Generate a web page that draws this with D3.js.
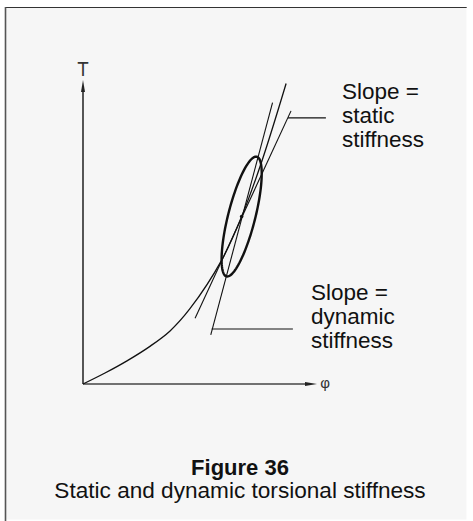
<!DOCTYPE html>
<html><head><meta charset="utf-8">
<script src="https://cdn.jsdelivr.net/npm/d3@7"></script>
<style>html,body{margin:0;padding:0;background:#fff}</style>
</head><body><svg id="c" width="473" height="521"></svg>
<script>
// ---- data (axis units: phi 0..10, T 0..13) ----
const curvePhi = [0, 0.94, 1.88, 2.86, 3.72, 4.57, 5.94, 6.78, 7.65, 8.68];
const curveT   = [0, 0.47, 0.99, 1.61, 2.27, 3.22, 5.32, 7.16, 9.55, 12.85];
const staticPhi = [4.79, 8.89];
const staticT   = [2.81, 11.68];
const dynamicPhi = [5.46, 8.10];
const dynamicT   = [2.10, 12.03];
const ellipseCenter = [6.78, 7.16];
const ellipseSemiAxes = [2.64, 0.58];
const ellipseTiltDeg = 14.2;
const staticLeaderPhi = [8.76, 10.38];
const staticLeaderT = 11.38;
const dynamicLeaderPhi = [5.50, 8.97];
const dynamicLeaderT = 2.35;
const staticLabel = ["Slope =", "static", "stiffness"];
const dynamicLabel = ["Slope =", "dynamic", "stiffness"];
const axisLabels = ["T", "φ"];
const titleText = "Figure 36";
const subtitleText = "Static and dynamic torsional stiffness";

const svg = d3.select("#c");
const W = 473, H = 521;
const x = d3.scaleLinear().domain([0, 10]).range([83, 317]);
const y = d3.scaleLinear().domain([0, 13]).range([384, 80]);
const font = "'Liberation Sans', Arial, Helvetica, sans-serif";

// frame
svg.append("rect").attr("x", 0).attr("y", 0).attr("width", W).attr("height", H).attr("fill", "#ffffff");
svg.append("rect").attr("x", 5).attr("y", 7.5).attr("width", 462).attr("height", 512).attr("fill", "#f6f6f6");
svg.append("line").attr("x1", 5).attr("y1", 7.5).attr("x2", 467).attr("y2", 7.5).attr("stroke", "#333").attr("stroke-width", 1.2);
svg.append("line").attr("x1", 5.5).attr("y1", 7).attr("x2", 5.5).attr("y2", H).attr("stroke", "#555").attr("stroke-width", 1.6);
svg.append("line").attr("x1", 467).attr("y1", 7.5).attr("x2", 467).attr("y2", H).attr("stroke", "#ffffff").attr("stroke-width", 1.2);

// axes
const axCol = "#444";
svg.append("line").attr("x1", x(0)).attr("y1", y(0)).attr("x2", x(0)).attr("y2", y(13) + 10)
  .attr("stroke", axCol).attr("stroke-width", 1.8);
svg.append("path").attr("d", `M${x(0)},${y(13)} L${x(0)-2},${y(13)+12} L${x(0)+2},${y(13)+12}Z`).attr("fill", "#222");
svg.append("line").attr("x1", x(0)).attr("y1", y(0)).attr("x2", x(10) - 10).attr("y2", y(0))
  .attr("stroke", axCol).attr("stroke-width", 1.6);
svg.append("path").attr("d", `M${x(10)},${y(0)} L${x(10)-12},${y(0)-2} L${x(10)-12},${y(0)+2}Z`).attr("fill", "#222");

svg.append("text").attr("x", x(0)).attr("y", 76).attr("text-anchor", "middle")
  .attr("font-family", "'Liberation Sans Narrow', 'DejaVu Sans Condensed', sans-serif").attr("font-size", 19)
  .attr("fill", "#333").text(axisLabels[0]);
svg.append("text").attr("x", 325).attr("y", 388).attr("text-anchor", "middle")
  .attr("font-family", font).attr("font-size", 15).attr("fill", "#333").text(axisLabels[1]);

// curve
const pts = curvePhi.map((p, i) => [x(p), y(curveT[i])]);
svg.append("path").attr("d", d3.line().curve(d3.curveCatmullRom.alpha(0.5))(pts))
  .attr("fill", "none").attr("stroke", "#111").attr("stroke-width", 1.3);

// tangent lines
svg.append("line").attr("x1", x(staticPhi[0])).attr("y1", y(staticT[0])).attr("x2", x(staticPhi[1])).attr("y2", y(staticT[1]))
  .attr("stroke", "#111").attr("stroke-width", 1.1);
svg.append("line").attr("x1", x(dynamicPhi[0])).attr("y1", y(dynamicT[0])).attr("x2", x(dynamicPhi[1])).attr("y2", y(dynamicT[1]))
  .attr("stroke", "#111").attr("stroke-width", 1.1);

// ellipse
const th = ellipseTiltDeg * Math.PI / 180;
const maj = [Math.sin(th), Math.cos(th)], mnr = [Math.cos(th), -Math.sin(th)];
const ell = d3.range(0, 361, 3).map(d => {
  const t = d * Math.PI / 180;
  const u = ellipseSemiAxes[0] * Math.cos(t), v = ellipseSemiAxes[1] * Math.sin(t);
  return [x(ellipseCenter[0] + u * maj[0] + v * mnr[0]), y(ellipseCenter[1] + u * maj[1] + v * mnr[1])];
});
svg.append("path").attr("d", d3.line().curve(d3.curveLinearClosed)(ell))
  .attr("fill", "none").attr("stroke", "#111").attr("stroke-width", 2.4);
svg.append("circle").attr("cx", x(ellipseCenter[0])).attr("cy", y(ellipseCenter[1])).attr("r", 1.8).attr("fill", "#111");

// leaders
svg.append("line").attr("x1", x(staticLeaderPhi[0])).attr("y1", y(staticLeaderT)).attr("x2", x(staticLeaderPhi[1])).attr("y2", y(staticLeaderT))
  .attr("stroke", "#111").attr("stroke-width", 1.1);
svg.append("line").attr("x1", x(dynamicLeaderPhi[0])).attr("y1", y(dynamicLeaderT)).attr("x2", x(dynamicLeaderPhi[1])).attr("y2", y(dynamicLeaderT))
  .attr("stroke", "#111").attr("stroke-width", 1.1);

// labels
function block(lines, x0, y0) {
  svg.append("g").selectAll("text").data(lines).join("text")
    .attr("x", x0).attr("y", (d, i) => y0 + i * 24)
    .attr("font-family", font).attr("font-size", 22.5).attr("fill", "#111").text(d => d);
}
block(staticLabel, x(staticLeaderPhi[1]) + 16, 99);
block(dynamicLabel, x(dynamicLeaderPhi[1]) + 18, 300);

svg.append("text").attr("x", 240).attr("y", 475).attr("text-anchor", "middle")
  .attr("font-family", font).attr("font-size", 22).attr("font-weight", "bold").attr("fill", "#111").text(titleText);
svg.append("text").attr("x", 240).attr("y", 498).attr("text-anchor", "middle")
  .attr("font-family", font).attr("font-size", 22.6).attr("fill", "#111").text(subtitleText);
</script></body></html>
